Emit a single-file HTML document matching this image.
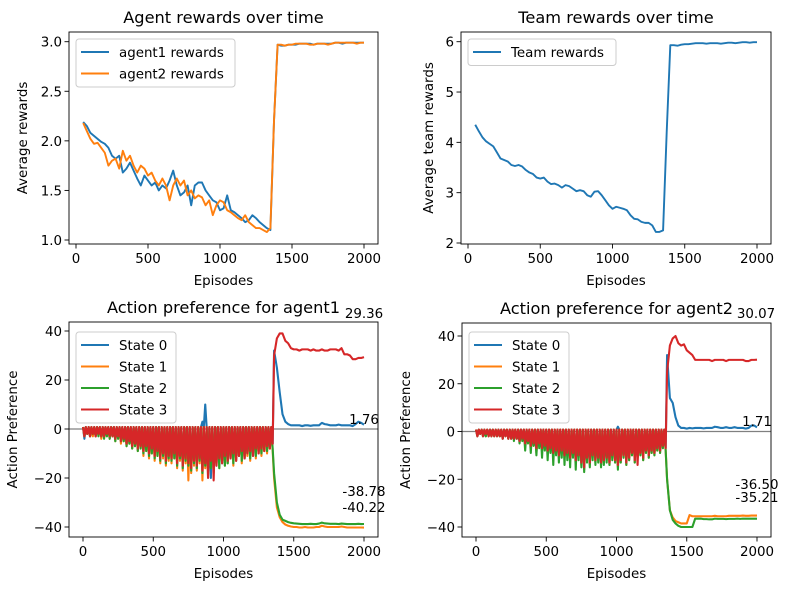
<!DOCTYPE html>
<html><head><meta charset="utf-8">
<style>
html,body{margin:0;padding:0;background:#fff;}
svg{display:block;font-family:"DejaVu Sans","Liberation Sans",sans-serif;}
</style></head>
<body>
<svg id="fig" width="788" height="590" viewBox="0 0 788 590" xmlns="http://www.w3.org/2000/svg"></svg>
<script>
// ---- data ----
const rewardEpisodes = [50,75,100,125,150,175,200,225,250,275,300,325,350,375,400,425,450,475,500,525,550,575,600,625,650,675,700,725,750,775,800,825,850,875,900,925,950,975,1000,1025,1050,1075,1100,1125,1150,1175,1200,1225,1250,1275,1300,1325,1350,1375,1400,1425,1450,1475,1500,1525,1550,1575,1600,1625,1650,1675,1700,1725,1750,1775,1800,1825,1850,1875,1900,1925,1950,1975,2000];
const agent1Rewards = [2.19,2.15,2.08,2.05,2.02,1.99,1.97,1.93,1.85,1.82,1.85,1.68,1.72,1.78,1.70,1.62,1.55,1.65,1.60,1.55,1.58,1.50,1.55,1.52,1.60,1.70,1.55,1.45,1.48,1.55,1.35,1.55,1.58,1.58,1.50,1.45,1.40,1.38,1.30,1.32,1.45,1.30,1.28,1.25,1.22,1.18,1.20,1.25,1.22,1.18,1.15,1.12,1.10,2.20,2.97,2.96,2.96,2.97,2.97,2.97,2.98,2.98,2.98,2.98,2.97,2.98,2.98,2.98,2.98,2.98,2.99,2.99,2.98,2.99,2.99,2.99,2.99,2.99,2.99];
const agent2Rewards = [2.18,2.10,2.02,1.97,1.98,1.93,1.88,1.75,1.80,1.82,1.72,1.90,1.80,1.85,1.75,1.68,1.75,1.72,1.65,1.68,1.60,1.55,1.62,1.55,1.40,1.55,1.62,1.55,1.60,1.45,1.50,1.42,1.45,1.43,1.35,1.40,1.25,1.35,1.40,1.38,1.30,1.28,1.25,1.22,1.20,1.25,1.18,1.15,1.12,1.12,1.10,1.08,1.12,2.20,2.97,2.97,2.96,2.97,2.97,2.98,2.98,2.98,2.98,2.97,2.97,2.98,2.98,2.98,2.97,2.98,2.99,2.99,2.99,2.99,2.99,2.99,2.98,2.99,2.99];
const teamRewards = [4.35,4.22,4.10,4.02,3.97,3.92,3.80,3.68,3.65,3.62,3.55,3.53,3.55,3.52,3.45,3.40,3.37,3.30,3.28,3.30,3.22,3.17,3.18,3.15,3.10,3.15,3.13,3.08,3.03,3.05,3.03,2.95,2.92,3.02,3.03,2.95,2.85,2.75,2.68,2.72,2.70,2.68,2.65,2.55,2.48,2.47,2.42,2.40,2.40,2.35,2.22,2.22,2.25,4.20,5.93,5.93,5.92,5.94,5.95,5.95,5.96,5.97,5.97,5.97,5.96,5.97,5.97,5.97,5.96,5.97,5.98,5.98,5.97,5.98,5.99,5.99,5.98,5.99,5.99];

const preEpisodes = [0,20,40,60,80,100,120,140,160,180,200,220,240,260,280,300,320,340,360,380,400,420,440,460,480,500,520,540,560,580,600,620,640,660,680,700,720,740,760,780,800,820,840,860,880,900,920,940,960,980,1000,1020,1040,1060,1080,1100,1120,1140,1160,1180,1200,1220,1240,1260,1280,1300,1320,1340];
const postEpisodes = [1360,1380,1400,1420,1440,1460,1480,1500,1520,1540,1560,1580,1600,1620,1640,1660,1680,1700,1720,1740,1760,1780,1800,1820,1840,1860,1880,1900,1920,1940,1960,1980,2000];

const a1s0Pre = [-4,-2,-3,-2,-3,-2,-3,-3,-2,-3,-3,-4,-3,-5,-4,-6,-5,-7,-6,-8,-7,-9,-7,-10,-8,-11,-9,-12,-10,-13,-11,-12,-10,-14,-11,-15,-12,-14,-16,-13,-15,-12,3,10,-14,-20,-13,-15,-12,-14,-11,-13,-12,-10,-13,-11,-9,-12,-10,-9,-11,-8,-10,-8,-9,-7,-8,-6,-7];
const a1s1Pre = [-3,-2,-3,-3,-3,-2,-4,-3,-3,-4,-3,-5,-4,-6,-5,-7,-6,-8,-7,-9,-8,-11,-9,-12,-10,-13,-11,-14,-12,-15,-13,-14,-12,-16,-13,-17,-14,-21,-18,-15,-17,-14,-21,-16,-19,-15,-17,-14,-16,-13,-15,-14,-12,-15,-13,-11,-14,-12,-11,-13,-10,-12,-10,-11,-9,-10,-8,-9];
const a1s2Pre = [-3,-2,-3,-2,-3,-3,-3,-4,-3,-4,-3,-5,-4,-5,-5,-7,-6,-8,-7,-9,-8,-10,-9,-11,-10,-12,-11,-13,-11,-14,-12,-13,-12,-15,-12,-16,-13,-15,-17,-14,-16,-13,-18,-15,-17,-16,-18,-14,-16,-13,-15,-14,-12,-14,-12,-11,-13,-12,-10,-12,-9,-11,-9,-10,-8,-9,-7,-8];
const a1s3Pre = [-3,-2,-3,-2,-3,-2,-3,-3,-2,-3,-3,-4,-3,-5,-4,-6,-5,-7,-6,-8,-7,-9,-7,-10,-8,-11,-9,-12,-10,-13,-11,-12,-10,-14,-11,-15,-12,-14,-16,-13,-15,-12,-17,-14,-20,-13,-21,-15,-12,-14,-11,-13,-12,-10,-13,-11,-9,-12,-10,-9,-11,-8,-10,-8,-9,-7,-8,-6];
const a1s0Post = [32,25,15,6,3,2,1.5,1.5,1.5,1.5,1.2,1.5,1.5,1.3,1.5,1.5,1.5,2.5,2,1.8,1.5,1.5,1.5,1.8,1.5,1.5,1.5,1.5,1.2,2,3,2.5,1.76];
const a1s1Post = [-20,-32,-36,-38,-39,-39.5,-39.8,-40,-40,-40.2,-40.2,-40,-40.2,-40.2,-40.2,-40,-40,-39.5,-39.8,-40,-40,-40,-40,-40,-39.8,-40,-40.2,-40.2,-40.2,-40.2,-40.2,-40.2,-40.22];
const a1s2Post = [-18,-30,-35,-37,-37.5,-38,-38.3,-38.5,-38.6,-38.7,-38.8,-38.8,-38.8,-38.7,-38.8,-38.8,-38.6,-38.2,-38.5,-38.6,-38.7,-38.7,-38.7,-38.8,-38.6,-38.7,-38.8,-38.8,-38.8,-38.8,-38.7,-38.8,-38.78];
const a1s3Post = [30,37,39,39,36,35,33,32.5,32.5,32,32.5,32.5,32.5,32,32.5,32,32,32.5,32,32,32.5,32.5,32.5,32,33,30.5,30.5,30,28.5,28.5,29,29,29.36];

const a2s0Pre = [-2,-1,-2,-2,-1,-2,-2,-2,-2,-3,-2,-3,-3,-3,-3,-4,-3,-5,-4,-6,-5,-8,-5,-7,-6,-8,-7,-9,-8,-10,-8,-10,-9,-11,-9,-12,-10,-13,-15,-11,-13,-10,-12,-11,-13,-12,-11,-13,-10,-12,2,-12,-10,-13,-11,-9,-12,-10,-9,-11,-8,-10,-8,-9,-7,-8,-6,-7];
const a2s1Pre = [-2,-1,-2,-2,-2,-2,-2,-2,-2,-3,-2,-3,-3,-3,-3,-4,-4,-6,-5,-7,-6,-9,-6,-8,-7,-9,-8,-10,-9,-11,-9,-11,-10,-12,-10,-13,-11,-14,-16,-12,-14,-11,-13,-12,-14,-13,-12,-14,-11,-13,-15,-13,-11,-14,-12,-10,-13,-11,-10,-12,-9,-11,-9,-10,-8,-9,-7,-8];
const a2s2Pre = [-2,-1,-2,-2,-2,-2,-2,-2,-2,-3,-2,-3,-3,-4,-3,-5,-4,-8,-5,-9,-6,-10,-7,-11,-8,-12,-9,-14,-10,-13,-11,-14,-12,-15,-11,-16,-12,-15,-17,-13,-15,-12,-14,-13,-15,-14,-13,-14,-12,-13,-16,-13,-11,-14,-12,-10,-13,-11,-10,-12,-9,-11,-9,-10,-8,-9,-7,-8];
const a2s3Pre = [-2,-1,-2,-1,-2,-2,-2,-2,-2,-3,-2,-3,-3,-3,-3,-4,-3,-5,-4,-6,-5,-7,-5,-7,-6,-8,-7,-9,-8,-10,-8,-10,-9,-11,-9,-12,-10,-13,-15,-11,-13,-10,-12,-11,-13,-12,-11,-13,-10,-12,-14,-12,-10,-13,-11,-9,-12,-14,-9,-11,-8,-10,-8,-9,-7,-8,-6,-7];
const a2s0Post = [32,14,12,6,2.5,1.5,1.5,1.2,1.5,1.3,1.5,1.5,1.5,1.3,1.5,1.5,1.5,2,1.8,1.5,1.5,1.8,1.5,1.5,1.8,1.5,1.5,1.5,1.2,1.5,2.5,2.5,1.71];
const a2s1Post = [-20,-33,-36,-37.5,-38,-38.5,-38.5,-38.5,-35,-35.5,-35.5,-35.5,-35.5,-35.5,-35.5,-35.5,-35.5,-35.3,-35.5,-35.5,-35.5,-35.5,-35.3,-35.3,-35.3,-35.3,-35.3,-35.2,-35.3,-35.3,-35.2,-35.2,-35.21];
const a2s2Post = [-20,-33,-37,-38.5,-39.5,-40,-40,-40,-40,-40,-36.5,-36.5,-36.5,-36.7,-36.7,-36.8,-36.8,-36.5,-36.6,-36.6,-36.6,-36.7,-36.6,-36.6,-36.6,-36.5,-36.6,-36.5,-36.5,-36.5,-36.5,-36.5,-36.50];
const a2s3Post = [25,36,39,40,37,36,36.5,34,33,32,30,30,30,30,30,30,29.5,30,30,30,30,29.5,30,30,30,30,30,30,29.5,29.5,30,30,30.07];

const stateNames = ['State 0','State 1','State 2','State 3'];
const xTicks = [0,500,1000,1500,2000];
const rewardYTicks = [1.0,1.5,2.0,2.5,3.0];
const teamYTicks = [2,3,4,5,6];
const prefYTicks = [-40,-20,0,20,40];
const finalLabels1 = ['29.36','1.76','-38.78','-40.22'];
const finalLabels2 = ['30.07','1.71','-36.50','-35.21'];

const C = ['#1f77b4','#ff7f0e','#2ca02c','#d62728'];
const NS = 'http://www.w3.org/2000/svg';
const fig = document.getElementById('fig');
const TICK = '13.4', TITLE = '16.2', LAB = '13.4';
function el(tag, attrs, parent, text){
  const e = document.createElementNS(NS, tag);
  for (const k in attrs) e.setAttribute(k, attrs[k]);
  if (text !== undefined) e.textContent = text;
  (parent||fig).appendChild(e);
  return e;
}
function lin(d0,d1,p0,p1){ return v => p0 + (v-d0)*(p1-p0)/(d1-d0); }

function axes(name, box, sx, sy, xt, yt, yfmt, title, ylabel, ylabelX){
  const g = el('g', {});
  
  
  const t = el('text', {x:(box.l+box.r)/2, y:box.t-9, 'text-anchor':'middle', 'font-size':TITLE, fill:'#000'}, g, title);
  
  
  const xl = el('text', {x:(box.l+box.r)/2, y:box.b+41, 'text-anchor':'middle', 'font-size':LAB, fill:'#000'}, g, 'Episodes');
  
  
  const cy = (box.t+box.b)/2;
  const yl = el('text', {x:ylabelX, y:cy, 'text-anchor':'middle', 'font-size':LAB, fill:'#000', transform:`rotate(-90 ${ylabelX} ${cy})`}, g, ylabel);
  
  
  xt.forEach(v => {
    const x = sx(v);
    el('line', {x1:x, x2:x, y1:box.b, y2:box.b+4.5, stroke:'#000', 'stroke-width':0.9}, g);
    const lb = el('text', {x:x, y:box.b+19, 'text-anchor':'middle', 'font-size':TICK, fill:'#000'}, g, String(v));
    
    
  });
  yt.forEach(v => {
    const y = sy(v);
    el('line', {x1:box.l-4.5, x2:box.l, y1:y, y2:y, stroke:'#000', 'stroke-width':0.9}, g);
    const lb = el('text', {x:box.l-7, y:y+5, 'text-anchor':'end', 'font-size':TICK, fill:'#000'}, g, yfmt(v));
    
    
  });
  const plot = el('g', {}, g);
  return {g, plot, box};
}
function frame(a){
  el('rect', {x:a.box.l, y:a.box.t, width:a.box.r-a.box.l, height:a.box.b-a.box.t, fill:'none', stroke:'#000', 'stroke-width':0.9}, a.g);
}
function seriesPath(a, xs, ys, sx, sy, color, name){
  const d = xs.map((x,i)=>(i?'L':'M')+sx(x).toFixed(2)+' '+sy(ys[i]).toFixed(2)).join(' ');
  const p = el('path', {d, fill:'none', stroke:color, 'stroke-width':1.9, 'stroke-linejoin':'round'}, a.plot);
  
  
}
function prefPath(a, pre, post, sx, sy, color, name){
  const pts = [];
  preEpisodes.forEach((e,i)=>{ pts.push([e, 0.8]); pts.push([e+10, pre[i]]); });
  postEpisodes.forEach((e,i)=>pts.push([e, post[i]]));
  const d = pts.map((p,i)=>(i?'L':'M')+sx(p[0]).toFixed(2)+' '+sy(p[1]).toFixed(2)).join(' ');
  const p = el('path', {d, fill:'none', stroke:color, 'stroke-width':2.1, 'stroke-linejoin':'round'}, a.plot);
  
  
}
function legend(a, x, y, w, labels, name){
  const rowH = 21.5;
  const h = labels.length*rowH + 5;
  const lg = el('g', {}, a.g);
  
  
  el('rect', {x, y, width:w, height:h, rx:3, fill:'#fff', 'fill-opacity':0.8, stroke:'#ccc', 'stroke-width':1}, lg);
  labels.forEach((lab,i)=>{
    const cy = y + 13 + i*rowH;
    const e = el('g', {}, lg);
    
    
    el('line', {x1:x+5, x2:x+33, y1:cy, y2:cy, stroke:C[i], 'stroke-width':2}, e);
    el('text', {x:x+43, y:cy+5, 'font-size':TICK, fill:'#000'}, e, lab);
  });
}

// ---- top-left ----
{
  const box = {l:69, r:378, t:32, b:244};
  const sx = lin(0,2000,76,364), sy = lin(1,3,240,41.7);
  const a = axes('agent-rewards-chart', box, sx, sy, xTicks, rewardYTicks, v=>v.toFixed(1), 'Agent rewards over time', 'Average rewards', 27);
  seriesPath(a, rewardEpisodes, agent1Rewards, sx, sy, C[0], 'agent1-rewards-line');
  seriesPath(a, rewardEpisodes, agent2Rewards, sx, sy, C[1], 'agent2-rewards-line');
  frame(a);
  legend(a, 76, 39, 159, ['agent1 rewards','agent2 rewards'], 'agent-rewards-legend');
}
// ---- top-right ----
{
  const box = {l:461, r:771, t:32, b:244};
  const sx = lin(0,2000,468,757), sy = lin(2,6,243,41.7);
  const a = axes('team-rewards-chart', box, sx, sy, xTicks, teamYTicks, v=>String(v), 'Team rewards over time', 'Average team rewards', 433);
  seriesPath(a, rewardEpisodes, teamRewards, sx, sy, C[0], 'team-rewards-line');
  frame(a);
  legend(a, 468, 39, 148, ['Team rewards'], 'team-rewards-legend');
}
function prefChart(name, box, sx, sy, title, ylx, pres, posts, labels, labelPos, lgx){
  const a = axes(name, box, sx, sy, xTicks, prefYTicks, v=>v<0?'\u2212'+(-v):String(v), title, 'Action Preference', ylx);
  const zl = el('line', {x1:box.l, x2:box.r, y1:sy(0), y2:sy(0), stroke:'#808080', 'stroke-width':1.2}, a.plot);
  
  
  for (let s=0;s<4;s++) prefPath(a, pres[s], posts[s], sx, sy, C[s], 'state-'+s+'-line');
  frame(a);
  labels.forEach((t,i)=>{
    const lb = el('text', {x:labelPos[i][0], y:labelPos[i][1]+5, 'text-anchor':'middle', 'font-size':LAB, fill:'#000'}, a.g, t);
    
    
  });
  legend(a, lgx, 332, 100, stateNames, name+'-legend');
}
prefChart('agent1-preference-chart', {l:69, r:378, t:322, b:537}, lin(0,2000,83,364), lin(-40,40,527,331),
  'Action preference for agent1', 17, [a1s0Pre,a1s1Pre,a1s2Pre,a1s3Pre], [a1s0Post,a1s1Post,a1s2Post,a1s3Post],
  finalLabels1, [[364,313],[364,419],[364,491],[364,507]], 76);
prefChart('agent2-preference-chart', {l:462, r:771, t:323, b:537}, lin(0,2000,476,757), lin(-40,40,527,336),
  'Action preference for agent2', 410, [a2s0Pre,a2s1Pre,a2s2Pre,a2s3Pre], [a2s0Post,a2s1Post,a2s2Post,a2s3Post],
  finalLabels2, [[756,313],[757,421],[757,484],[757,497]], 469);
</script>
</body></html>
